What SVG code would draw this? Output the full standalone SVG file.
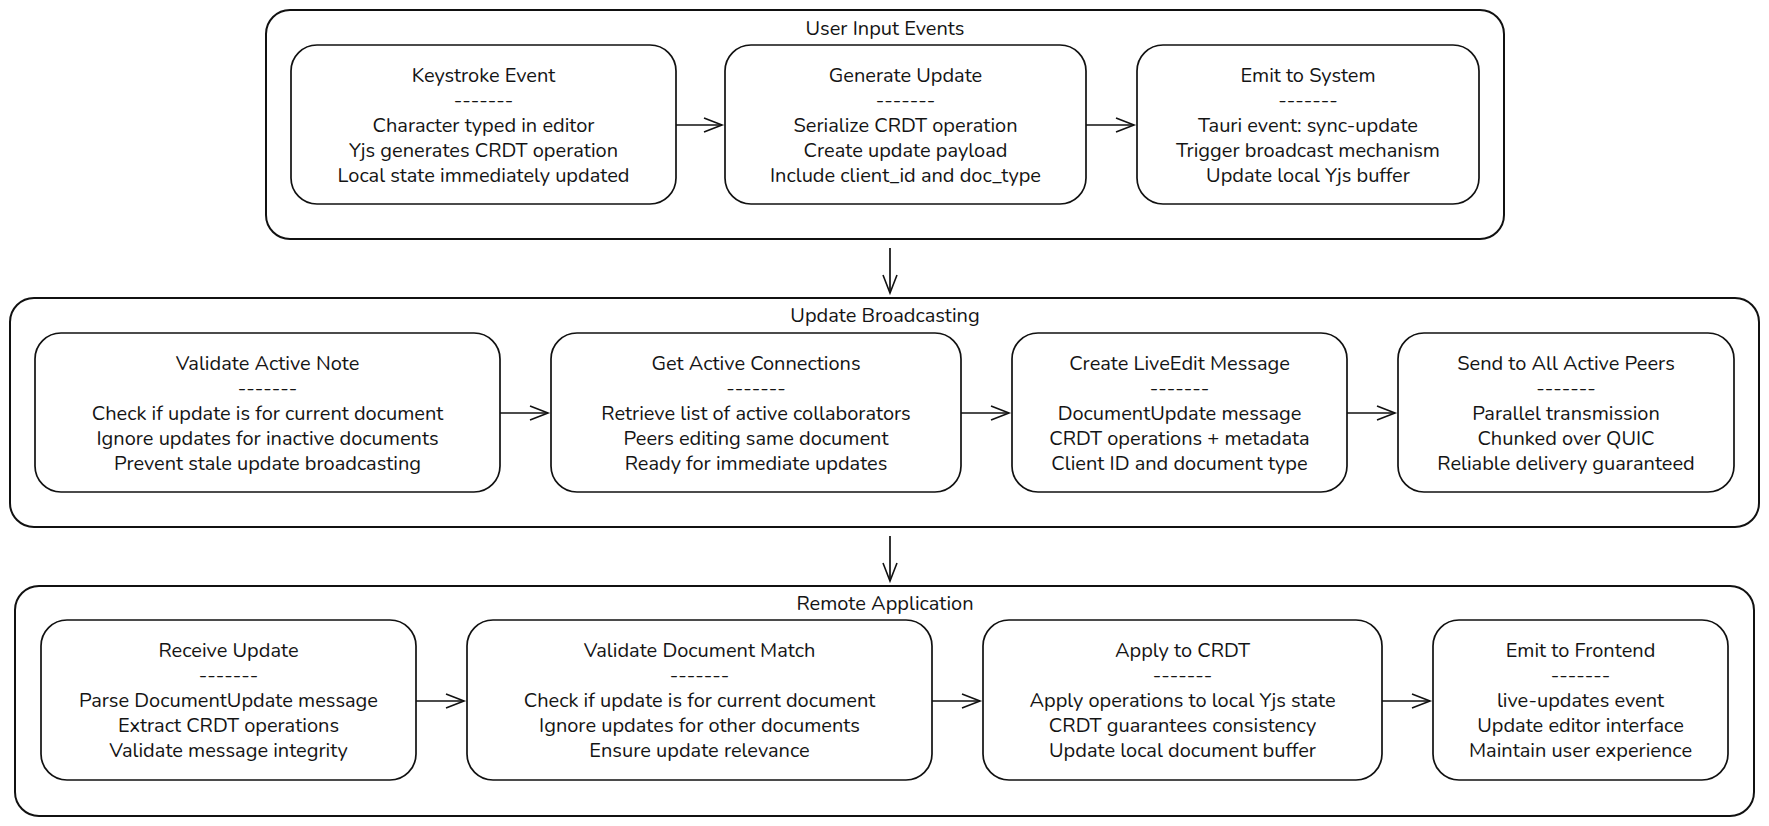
<svg xmlns="http://www.w3.org/2000/svg" width="1769" height="826" viewBox="0 0 1769 826">
<defs>
<marker id="arr" markerUnits="userSpaceOnUse" markerWidth="22" markerHeight="18" refX="19" refY="8" orient="auto">
<path d="M1,1 L19,8 L1,15" fill="none" stroke="#111" stroke-width="1.6"/>
</marker>
<style>
.cl{fill:#fff;stroke:#111;stroke-width:2}
.nd{fill:#fff;stroke:#111;stroke-width:1.7}
text{font-family:"Nunito","Lato","Noto Sans",sans-serif;font-size:20px;fill:#141414;text-anchor:middle}
.ed{stroke:#111;stroke-width:1.7;fill:none;marker-end:url(#arr)}
</style>
</defs>
<rect width="1769" height="826" fill="#fff"/>
<g id="cluster-user-input">
<rect class="cl" x="266" y="10" width="1238" height="229" rx="24"/>
<text x="885" y="35">User Input Events</text>
</g>
<g id="cluster-broadcast">
<rect class="cl" x="10" y="298" width="1749" height="229" rx="24"/>
<text x="885" y="322">Update Broadcasting</text>
</g>
<g id="cluster-remote">
<rect class="cl" x="15" y="586" width="1739" height="230" rx="24"/>
<text x="885" y="610">Remote Application</text>
</g>
<g id="keystroke">
<rect class="nd" x="291" y="45" width="385" height="159" rx="26"/>
<text x="483.5" y="82">Keystroke Event</text><text x="483.5" y="107">-------</text>
<text x="483.5" y="132">Character typed in editor</text><text x="483.5" y="157">Yjs generates CRDT operation</text><text x="483.5" y="182">Local state immediately updated</text>
</g>
<g id="generate">
<rect class="nd" x="725" y="45" width="361" height="159" rx="26"/>
<text x="905.5" y="82">Generate Update</text><text x="905.5" y="107">-------</text>
<text x="905.5" y="132">Serialize CRDT operation</text><text x="905.5" y="157">Create update payload</text><text x="905.5" y="182">Include client_id and doc_type</text>
</g>
<g id="emit-system">
<rect class="nd" x="1137" y="45" width="342" height="159" rx="26"/>
<text x="1308" y="82">Emit to System</text><text x="1308" y="107">-------</text>
<text x="1308" y="132">Tauri event: sync-update</text><text x="1308" y="157">Trigger broadcast mechanism</text><text x="1308" y="182">Update local Yjs buffer</text>
</g>
<g id="validate-note">
<rect class="nd" x="35" y="333" width="465" height="159" rx="26"/>
<text x="267.5" y="370">Validate Active Note</text><text x="267.5" y="395">-------</text>
<text x="267.5" y="420">Check if update is for current document</text><text x="267.5" y="445">Ignore updates for inactive documents</text><text x="267.5" y="470">Prevent stale update broadcasting</text>
</g>
<g id="get-connections">
<rect class="nd" x="551" y="333" width="410" height="159" rx="26"/>
<text x="756" y="370">Get Active Connections</text><text x="756" y="395">-------</text>
<text x="756" y="420">Retrieve list of active collaborators</text><text x="756" y="445">Peers editing same document</text><text x="756" y="470">Ready for immediate updates</text>
</g>
<g id="create-message">
<rect class="nd" x="1012" y="333" width="335" height="159" rx="26"/>
<text x="1179.5" y="370">Create LiveEdit Message</text><text x="1179.5" y="395">-------</text>
<text x="1179.5" y="420">DocumentUpdate message</text><text x="1179.5" y="445">CRDT operations + metadata</text><text x="1179.5" y="470">Client ID and document type</text>
</g>
<g id="send-peers">
<rect class="nd" x="1398" y="333" width="336" height="159" rx="26"/>
<text x="1566" y="370">Send to All Active Peers</text><text x="1566" y="395">-------</text>
<text x="1566" y="420">Parallel transmission</text><text x="1566" y="445">Chunked over QUIC</text><text x="1566" y="470">Reliable delivery guaranteed</text>
</g>
<g id="receive">
<rect class="nd" x="41" y="620" width="375" height="160" rx="26"/>
<text x="228.5" y="657">Receive Update</text><text x="228.5" y="682">-------</text>
<text x="228.5" y="707">Parse DocumentUpdate message</text><text x="228.5" y="732">Extract CRDT operations</text><text x="228.5" y="757">Validate message integrity</text>
</g>
<g id="validate-doc">
<rect class="nd" x="467" y="620" width="465" height="160" rx="26"/>
<text x="699.5" y="657">Validate Document Match</text><text x="699.5" y="682">-------</text>
<text x="699.5" y="707">Check if update is for current document</text><text x="699.5" y="732">Ignore updates for other documents</text><text x="699.5" y="757">Ensure update relevance</text>
</g>
<g id="apply-crdt">
<rect class="nd" x="983" y="620" width="399" height="160" rx="26"/>
<text x="1182.5" y="657">Apply to CRDT</text><text x="1182.5" y="682">-------</text>
<text x="1182.5" y="707">Apply operations to local Yjs state</text><text x="1182.5" y="732">CRDT guarantees consistency</text><text x="1182.5" y="757">Update local document buffer</text>
</g>
<g id="emit-frontend">
<rect class="nd" x="1433" y="620" width="295" height="160" rx="26"/>
<text x="1580.5" y="657">Emit to Frontend</text><text x="1580.5" y="682">-------</text>
<text x="1580.5" y="707">live-updates event</text><text x="1580.5" y="732">Update editor interface</text><text x="1580.5" y="757">Maintain user experience</text>
</g>
<g id="connectors">
<line class="ed" x1="676" y1="125" x2="722" y2="125"/>
<line class="ed" x1="1086" y1="125" x2="1134" y2="125"/>
<line class="ed" x1="890" y1="248" x2="890" y2="293"/>
<line class="ed" x1="500" y1="413" x2="548" y2="413"/>
<line class="ed" x1="961" y1="413" x2="1009" y2="413"/>
<line class="ed" x1="1347" y1="413" x2="1395" y2="413"/>
<line class="ed" x1="890" y1="536" x2="890" y2="581"/>
<line class="ed" x1="416" y1="701" x2="464" y2="701"/>
<line class="ed" x1="932" y1="701" x2="980" y2="701"/>
<line class="ed" x1="1382" y1="701" x2="1430" y2="701"/>
</g>
</svg>
